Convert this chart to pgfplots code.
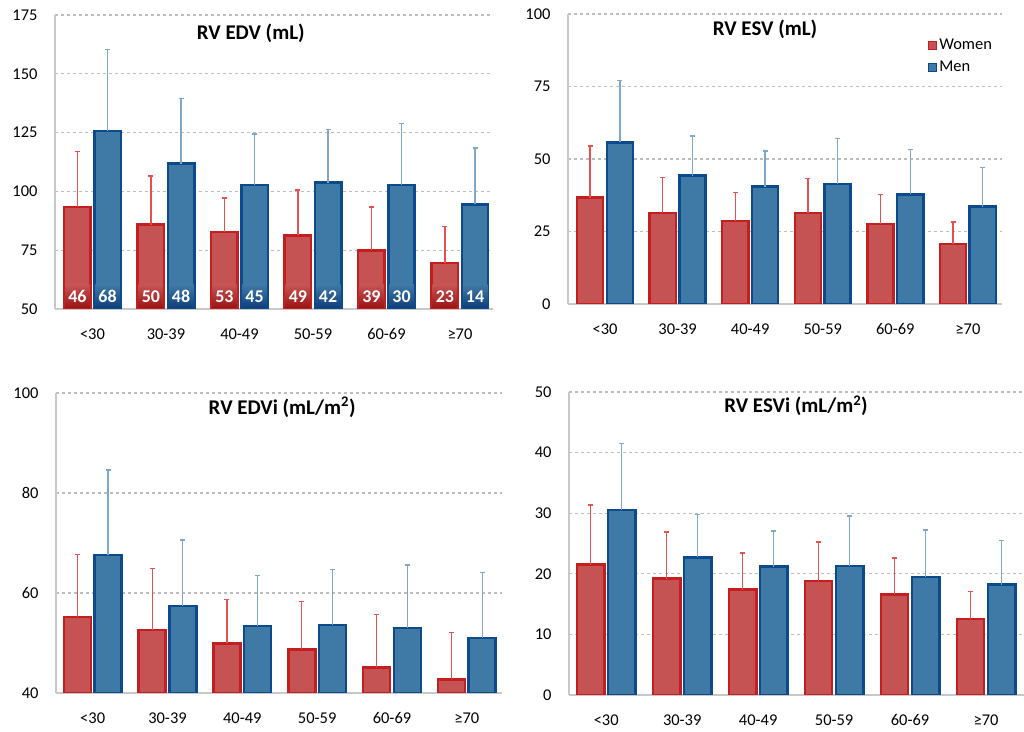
\documentclass[border=0pt]{standalone}
\usepackage{fontspec}
\setmainfont{Carlito}
\usepackage{pgfplots}
\pgfplotsset{compat=1.18}

\definecolor{wfill}{HTML}{C65353}
\definecolor{wedge}{HTML}{C41E1E}
\definecolor{wdark}{HTML}{9C1414}
\definecolor{werr}{HTML}{E55050}
\definecolor{mfill}{HTML}{3F79A5}
\definecolor{medge}{HTML}{0D4A8C}
\definecolor{mdark}{HTML}{0E3F7C}
\definecolor{merr}{HTML}{7FA8C8}
\definecolor{gridc}{HTML}{BDBDBD}
\definecolor{axc}{HTML}{C8C8C8}

\pgfplotsset{
  panel/.style={
    scale only axis, anchor=south west,
    axis x line*=bottom, axis y line*=left,
    axis line style={axc, line width=2bp, -},
    xtick={0,...,5},
    xticklabels={<30,30-39,40-49,50-59,60-69,≥70},
    major tick length=0pt,
    ymajorgrids,
    grid style={gridc, line width=1.2bp, dash pattern=on 3bp off 3bp},
    tick label style={font=\fontsize{16.5}{19}\selectfont, black},
    yticklabel style={xshift=-14bp},
    xticklabel style={yshift=-16bp},
    /pgf/number format/assume math mode=true,
    title style={font=\bfseries\fontsize{21}{25}\selectfont, anchor=center},
  },
  bars/.style={ybar, bar width=0.36, bar shift=0pt, line width=2.5bp,
    error bars/y dir=plus, error bars/y explicit, error bars/error mark=|},
  women/.style={bars, fill=wfill, draw=wedge,
    error bars/error bar style={werr, line width=1.3bp},
    error bars/error mark options={werr, line width=1.6bp, mark size=2.5bp},
    legend image code/.code={\draw[fill=wfill, draw=wedge, line width=1bp] (0bp,-4bp) rectangle (8bp,4bp);}},
  men/.style={bars, fill=mfill, draw=medge,
    error bars/error bar style={merr, line width=1.3bp},
    error bars/error mark options={merr, line width=1.6bp, mark size=2.5bp},
    legend image code/.code={\draw[fill=mfill, draw=medge, line width=1bp] (0bp,-4bp) rectangle (8bp,4bp);}},
  counts/.style={draw=none, mark=none, nodes near coords, point meta=explicit symbolic,
    every node near coord/.append style={anchor=center, white, inner sep=0pt,
      minimum width=24.5bp, minimum height=23bp, top color=#1fill, bottom color=#1dark,
      font=\bfseries\fontsize{18}{20}\selectfont}},
}

\begin{document}
\begin{tikzpicture}[x=1bp,y=1bp]
\useasboundingbox (0,0) rectangle (1024,732);

% RV EDV
\begin{axis}[panel, at={(55bp,423bp)}, width=438bp, height=294bp,
  xmin=-0.51, xmax=5.45, ymin=50, ymax=175, ytick={50,75,...,175},
  title={RV EDV (mL)}, title style={at={(0.447,0.918)}}]
\addplot[women] coordinates {(-0.205,93.3) +- (0,23.7) (0.795,85.9) +- (0,20.6) (1.795,82.7) +- (0,14.5)
  (2.795,81.3) +- (0,19.4) (3.795,74.9) +- (0,18.4) (4.795,69.6) +- (0,15.5)};
\addplot[men] coordinates {(0.205,125.6) +- (0,34.8) (1.205,111.8) +- (0,27.7) (2.205,102.8) +- (0,21.6)
  (3.205,103.7) +- (0,22.6) (4.205,102.8) +- (0,26.0) (5.205,94.5) +- (0,24.0)};
\addplot[counts=w] coordinates {(-0.205,55.4) [46] (0.795,55.4) [50] (1.795,55.4) [53]
  (2.795,55.4) [49] (3.795,55.4) [39] (4.795,55.4) [23]};
\addplot[counts=m] coordinates {(0.205,55.4) [68] (1.205,55.4) [48] (2.205,55.4) [45]
  (3.205,55.4) [42] (4.205,55.4) [30] (5.205,55.4) [14]};
\end{axis}

% RV ESV
\begin{axis}[panel, at={(568bp,428bp)}, width=434bp, height=290bp,
  xmin=-0.51, xmax=5.47, ymin=0, ymax=100, ytick={0,25,...,100},
  title={RV ESV (mL)}, title style={at={(0.454,0.928)}},
  legend style={at={(0.823,0.855)}, anchor=west, draw=none, fill=none,
    font=\fontsize{16.5}{19}\selectfont, row sep=6bp},
  legend cell align=left]
\addplot[women] coordinates {(-0.205,36.7) +- (0,17.8) (0.795,31.3) +- (0,12.3) (1.795,28.6) +- (0,9.8)
  (2.795,31.3) +- (0,12.0) (3.795,27.5) +- (0,10.3) (4.795,20.6) +- (0,7.6)};
\addlegendentry{Women}
\addplot[men] coordinates {(0.205,55.7) +- (0,21.3) (1.205,44.3) +- (0,13.7) (2.205,40.5) +- (0,12.3)
  (3.205,41.3) +- (0,15.8) (4.205,37.8) +- (0,15.5) (5.205,33.6) +- (0,13.4)};
\addlegendentry{Men}
\end{axis}

% RV EDVi
\begin{axis}[panel, at={(56bp,39bp)}, width=446bp, height=300bp,
  xmin=-0.49, xmax=5.47, ymin=40, ymax=100, ytick={40,60,80,100},
  title={RV EDVi (mL/m\textsuperscript{2})}, title style={at={(0.507,0.933)}}]
\addplot[women] coordinates {(-0.205,55.2) +- (0,12.5) (0.795,52.6) +- (0,12.3) (1.795,49.9) +- (0,8.8)
  (2.795,48.7) +- (0,9.6) (3.795,45.1) +- (0,10.6) (4.795,42.7) +- (0,9.4)};
\addplot[men] coordinates {(0.205,67.6) +- (0,17.0) (1.205,57.4) +- (0,13.2) (2.205,53.4) +- (0,10.1)
  (3.205,53.6) +- (0,11.1) (4.205,53.0) +- (0,12.6) (5.205,51.0) +- (0,13.1)};
\end{axis}

% RV ESVi
\begin{axis}[panel, at={(569bp,37bp)}, width=455bp, height=303bp,
  xmin=-0.49, xmax=5.5, ymin=0, ymax=50, ytick={0,10,...,50},
  title={RV ESVi (mL/m\textsuperscript{2})}, title style={at={(0.499,0.934)}}]
\addplot[women] coordinates {(-0.205,21.5) +- (0,9.9) (0.795,19.2) +- (0,7.7) (1.795,17.4) +- (0,6.0)
  (2.795,18.8) +- (0,6.4) (3.795,16.6) +- (0,6.0) (4.795,12.5) +- (0,4.6)};
\addplot[men] coordinates {(0.205,30.5) +- (0,11.0) (1.205,22.7) +- (0,7.1) (2.205,21.2) +- (0,5.9)
  (3.205,21.3) +- (0,8.2) (4.205,19.5) +- (0,7.7) (5.205,18.2) +- (0,7.3)};
\end{axis}
\end{tikzpicture}
\end{document}
